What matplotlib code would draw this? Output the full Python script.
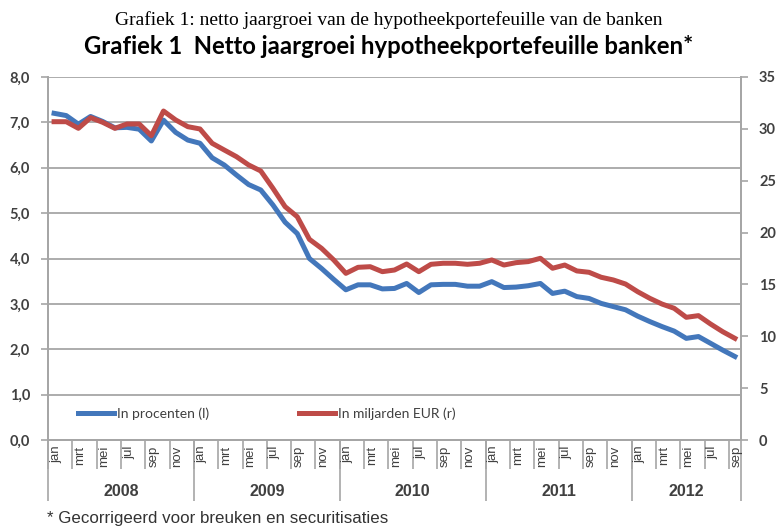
import numpy as np
import matplotlib.pyplot as plt
import matplotlib.transforms as mtransforms

# Data: monthly, jan 2008 - sep 2012
month_names = ['jan', 'feb', 'mrt', 'apr', 'mei', 'jun', 'jul', 'aug', 'sep', 'okt', 'nov', 'dec']
years = [2008, 2009, 2010, 2011, 2012]
months_per_year = [12, 12, 12, 12, 9]

# in procenten (linker as)
groei_pct = [7.20, 7.15, 6.96, 7.13, 7.02, 6.88, 6.89, 6.85, 6.59, 7.05, 6.78, 6.61,
             6.54, 6.22, 6.06, 5.84, 5.63, 5.51, 5.18, 4.80, 4.55, 4.00, 3.78, 3.54,
             3.31, 3.42, 3.42, 3.33, 3.34, 3.45, 3.25, 3.42, 3.43, 3.43, 3.39, 3.39,
             3.49, 3.36, 3.37, 3.40, 3.45, 3.23, 3.28, 3.16, 3.12, 3.01, 2.94, 2.87,
             2.73, 2.61, 2.50, 2.40, 2.24, 2.28, 2.13, 1.98, 1.84]
# in miljarden EUR (rechter as)
groei_mld = [30.69, 30.69, 30.05, 31.08, 30.63, 30.05, 30.47, 30.47, 29.34, 31.72, 30.86, 30.21,
             29.99, 28.61, 27.96, 27.32, 26.52, 25.94, 24.27, 22.50, 21.53, 19.35, 18.48, 17.36,
             16.07, 16.65, 16.71, 16.23, 16.39, 16.97, 16.23, 16.94, 17.04, 17.04, 16.94, 17.04,
             17.36, 16.87, 17.10, 17.20, 17.52, 16.56, 16.87, 16.30, 16.17, 15.69, 15.43, 15.04,
             14.30, 13.66, 13.11, 12.70, 11.83, 11.99, 11.18, 10.44, 9.80]

n = len(groei_pct)
x = np.arange(n)
labels = [month_names[i % 12] for i in range(n)]

blue = '#4377bb'
red = '#be4b48'
grey = '#a6a6a6'
txt = '#404040'

fig = plt.figure(figsize=(7.77, 5.28), dpi=100)
ax = fig.add_axes([48/777, 88/528, 693/777, 363/528])
ax2 = ax.twinx()

l1, = ax.plot(x, groei_pct, color=blue, lw=3.6, solid_joinstyle='round', zorder=3)
l2, = ax2.plot(x, groei_mld, color=red, lw=3.6, solid_joinstyle='round', zorder=3)

ax.set_xlim(-0.5, n - 0.5)
ax.set_ylim(0, 8)
ax2.set_ylim(0, 35)

# y axes
ax.set_yticks(np.arange(0, 8.1, 1))
ax.set_yticklabels([('%.1f' % v).replace('.', ',') for v in np.arange(0, 8.1, 1)])
ax2.set_yticks(np.arange(0, 36, 5))
ax.yaxis.grid(True, color=grey, lw=1.3)
ax.set_axisbelow(True)
for a in (ax, ax2):
    a.spines['top'].set_visible(False)
    for s in ('left', 'right', 'bottom'):
        a.spines[s].set_color(grey)
        a.spines[s].set_linewidth(1.3)
ax.tick_params(axis='y', length=5, color=grey, width=1.2, labelsize=10.5, labelcolor=txt, pad=8)
ax2.tick_params(axis='y', length=5, color=grey, width=1.2, labelsize=10.5, labelcolor=txt, pad=8)
for t in ax.get_yticklabels() + ax2.get_yticklabels():
    t.set_fontweight('bold')
    t.set_family('Lato')

# x axis: tick lines every two months, labels at month centres
ax.set_xticks(np.arange(-0.5, n, 2))
ax.set_xticklabels([])
ax.tick_params(axis='x', which='major', length=21, color=grey, width=1.2)
ax.set_xticks(x[::2] + 0.15, minor=True)
ax.set_xticklabels(labels[::2], minor=True, rotation=90, fontsize=9.5,
                   family='Liberation Sans', color=txt)
ax.tick_params(axis='x', which='minor', length=0, pad=4)

# year separators and labels
bounds = np.concatenate([[0], np.cumsum(months_per_year)]) - 0.5
sec = ax.secondary_xaxis('bottom')
sec.set_xticks(bounds)
sec.set_xticklabels([])
sec.tick_params(length=44, color=grey, width=1.2)
sec.spines['bottom'].set_visible(False)

trans = mtransforms.blended_transform_factory(ax.transData, ax.transAxes)
for yr, lo, hi in zip(years, bounds[:-1], bounds[1:]):
    ax.text((lo + hi) / 2, -0.143, str(yr), transform=trans, ha='center', va='center',
            fontsize=11.5, fontweight='bold', family='Liberation Sans', color=txt)

# legend
leg = ax.legend([l1, l2], ['In procenten (l)', 'In miljarden EUR (r)'], ncol=2,
                loc='lower left', bbox_to_anchor=(0.025, 0.02), frameon=False,
                prop={'family': 'Lato', 'size': 10}, handlelength=2.6,
                handletextpad=0.2, columnspacing=6.5, labelcolor=txt)

# titles
fig.text(0.5, 1 - 20/528, 'Grafiek 1: netto jaargroei van de hypotheekportefeuille van de banken',
         ha='center', va='center', family='Liberation Serif', fontsize=14)
fig.text(0.5, 1 - 47/528, 'Grafiek 1  Netto jaargroei hypotheekportefeuille banken*',
         ha='center', va='center', family='Lato', fontweight='bold', fontsize=17.2)
fig.text(47/777, 1 - 519/528, '* Gecorrigeerd voor breuken en securitisaties',
         ha='left', va='center', family='Liberation Sans', fontsize=12.2, color='#333333')

fig.savefig('out.png', dpi=100)
